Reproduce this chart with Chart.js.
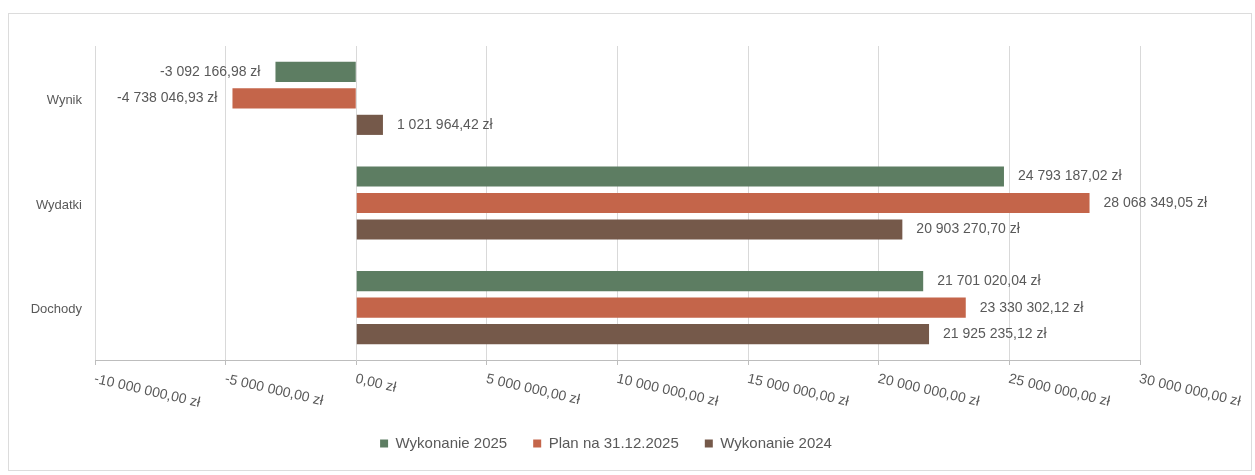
<!DOCTYPE html>
<html lang="pl">
<head>
<meta charset="utf-8">
<title>Wykonanie budżetu</title>
<script src="https://cdn.jsdelivr.net/npm/chart.js@4/dist/chart.umd.min.js"></script>
<style>
  html, body { margin: 0; padding: 0; background: #fff; }
  #wrap { position: relative; width: 1255px; height: 475px; }
  #frame { position: absolute; left: 8px; top: 13px; width: 1242px; height: 456px; border: 1px solid #dcdcdc; }
  canvas { position: absolute; left: 0; top: 0; }
</style>
</head>
<body>
<div id="wrap">
  <div id="frame"></div>
  <canvas id="chart" width="1255" height="475"></canvas>
</div>
<script>
// dane
const categories = ["Wynik", "Wydatki", "Dochody"];
const seriesNames = ["Wykonanie 2025", "Plan na 31.12.2025", "Wykonanie 2024"];
const wykonanie2025 = [-3092166.98, 24793187.02, 21701020.04];
const plan2025 = [-4738046.93, 28068349.05, 23330302.12];
const wykonanie2024 = [1021964.42, 20903270.70, 21925235.12];
const xTicks = [-10000000, -5000000, 0, 5000000, 10000000, 15000000, 20000000, 25000000, 30000000];

const colors = ["#5d7d62", "#c4654a", "#75594a"];
const textColor = "#595959";
const fontFamily = "'Liberation Sans', Arial, sans-serif";

// format "24 793 187,02 zł"
function zl(v) {
  const neg = v < 0;
  const parts = Math.abs(v).toFixed(2).split(".");
  const int = parts[0].replace(/\B(?=(\d{3})+(?!\d))/g, " ");
  return (neg ? "-" : "") + int + "," + parts[1] + " zł";
}

// etykiety osi (kategorie, pochylone kwoty) i wartości przy słupkach
const labelsPlugin = {
  id: "labels",
  afterDatasetsDraw(chart) {
    const ctx = chart.ctx;
    const xs = chart.scales.x;
    const ys = chart.scales.y;
    ctx.save();
    ctx.fillStyle = textColor;

    // kategorie
    ctx.font = "13px " + fontFamily;
    ctx.textAlign = "right";
    ctx.textBaseline = "middle";
    categories.forEach((c, i) => {
      ctx.fillText(c, xs.left - 13, ys.getPixelForValue(i) + 2);
    });

    // oś X
    ctx.font = "14px " + fontFamily;
    ctx.textAlign = "left";
    ctx.textBaseline = "top";
    xTicks.forEach(v => {
      const px = xs.getPixelForValue(v);
      ctx.save();
      ctx.translate(px + 1, xs.top + 12);
      ctx.rotate(13 * Math.PI / 180);
      ctx.fillText(zl(v), 0, 0);
      ctx.restore();
    });

    // wartości
    ctx.font = "14px " + fontFamily;
    ctx.textBaseline = "middle";
    chart.data.datasets.forEach((ds, i) => {
      chart.getDatasetMeta(i).data.forEach((bar, j) => {
        const v = ds.data[j];
        if (v >= 0) {
          ctx.textAlign = "left";
          ctx.fillText(zl(v), bar.x + 14, bar.y);
        } else {
          ctx.textAlign = "right";
          ctx.fillText(zl(v), bar.x - 15, bar.y);
        }
      });
    });
    ctx.restore();
  }
};

new Chart(document.getElementById("chart"), {
  type: "bar",
  data: {
    labels: categories,
    datasets: [
      { label: seriesNames[0], data: wykonanie2025, backgroundColor: colors[0] },
      { label: seriesNames[1], data: plan2025, backgroundColor: colors[1] },
      { label: seriesNames[2], data: wykonanie2024, backgroundColor: colors[2] }
    ]
  },
  options: {
    indexAxis: "y",
    responsive: false,
    animation: false,
    categoryPercentage: 0.76,
    barPercentage: 0.76,
    layout: { padding: { left: 72, right: 115, top: 46, bottom: 14 } },
    scales: {
      x: {
        min: -10000000,
        max: 30000000,
        afterBuildTicks: (s) => { s.ticks = xTicks.map(v => ({ value: v })); },
        afterFit: (s) => { s.height = 50; },
        ticks: { display: false },
        grid: { color: "#d9d9d9", tickLength: 5, tickColor: "#bdbdbd" },
        border: { color: "#bdbdbd" }
      },
      y: {
        afterFit: (s) => { s.width = 23; },
        grid: { display: false },
        border: { display: false },
        ticks: { display: false }
      }
    },
    plugins: {
      legend: {
        position: "bottom",
        labels: {
          color: textColor,
          boxWidth: 8,
          boxHeight: 8,
          padding: 26,
          font: { family: fontFamily, size: 15 }
        }
      },
      tooltip: { enabled: false }
    }
  },
  plugins: [labelsPlugin]
});
</script>
</body>
</html>
